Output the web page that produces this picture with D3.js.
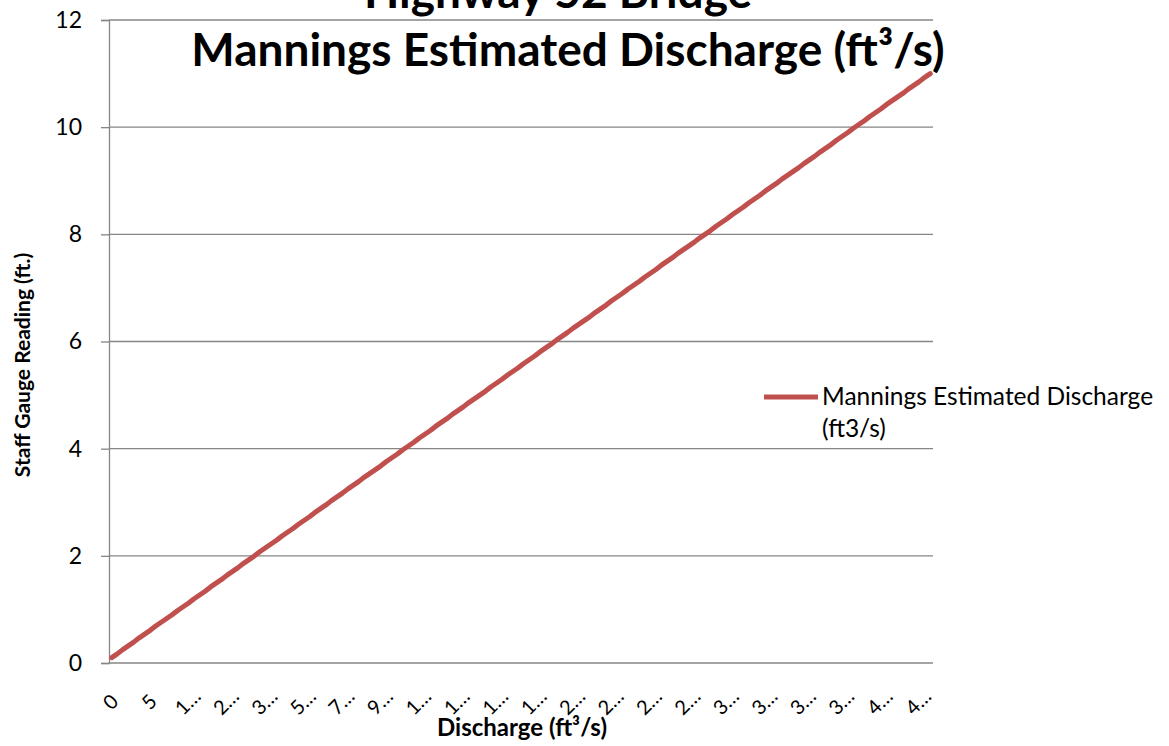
<!DOCTYPE html>
<html>
<head>
<meta charset="utf-8">
<script src="https://cdn.jsdelivr.net/npm/d3@7"></script>
<style>
  html, body { margin: 0; padding: 0; background: #ffffff; }
  svg { display: block; }
  text { font-family: Lato, "Open Sans", sans-serif; fill: #000; }
</style>
</head>
<body>
<svg id="chart" width="1169" height="746"></svg>
<script>
// Discharge categories (ft3/s), stage readings (ft)
const discharge = [
  0, 1, 1, 2, 3, 3, 4, 5, 6, 7, 8, 9, 10, 11, 12, 13, 15, 16, 17, 19,
  20, 22, 23, 25, 27, 28, 30, 32, 36, 38, 40, 42, 45, 47, 49, 52, 54, 57, 59, 62,
  64, 67, 70, 72, 75, 78, 81, 84, 87, 90, 93, 96, 99, 102, 105, 108, 111, 114, 117, 120,
  124, 127, 130, 133, 136, 140, 143, 146, 150, 153, 156, 160, 163, 167, 170, 173, 177, 180, 184, 187,
  191, 194, 198, 201, 205, 208, 212, 216, 219, 223, 227, 230, 234, 238, 241, 245, 249, 253, 256, 260,
  264, 268, 272, 275, 279, 283, 287, 291, 295, 299, 302, 306, 310, 314, 318, 322, 326, 330, 334, 338,
  342, 346, 350, 354, 358, 362, 366, 370, 374, 378, 383, 387, 391, 395, 399, 403, 407, 412, 416, 420,
  424, 428, 433, 437, 441, 445, 450, 454, 458, 463
];
const stage = [
  0.10, 0.17, 0.25, 0.32, 0.39, 0.47, 0.54, 0.61, 0.69, 0.76, 0.83, 0.90, 0.98, 1.05, 1.12, 1.20, 1.27, 1.34, 1.42, 1.49,
  1.56, 1.64, 1.71, 1.78, 1.86, 1.93, 2.00, 2.08, 2.15, 2.22, 2.29, 2.37, 2.44, 2.51, 2.59, 2.66, 2.73, 2.81, 2.88, 2.95,
  3.03, 3.10, 3.17, 3.25, 3.32, 3.39, 3.47, 3.54, 3.61, 3.68, 3.76, 3.83, 3.90, 3.98, 4.05, 4.12, 4.20, 4.27, 4.34, 4.42,
  4.49, 4.56, 4.64, 4.71, 4.78, 4.86, 4.93, 5.00, 5.07, 5.15, 5.22, 5.29, 5.37, 5.44, 5.51, 5.59, 5.66, 5.73, 5.81, 5.88,
  5.95, 6.03, 6.10, 6.17, 6.25, 6.32, 6.39, 6.46, 6.54, 6.61, 6.68, 6.76, 6.83, 6.90, 6.98, 7.05, 7.12, 7.20, 7.27, 7.34,
  7.42, 7.49, 7.56, 7.64, 7.71, 7.78, 7.85, 7.93, 8.00, 8.07, 8.15, 8.22, 8.29, 8.37, 8.44, 8.51, 8.59, 8.66, 8.73, 8.81,
  8.88, 8.95, 9.03, 9.10, 9.17, 9.24, 9.32, 9.39, 9.46, 9.54, 9.61, 9.68, 9.76, 9.83, 9.90, 9.98, 10.05, 10.12, 10.20, 10.27,
  10.34, 10.42, 10.49, 10.56, 10.63, 10.71, 10.78, 10.85, 10.93, 11.00
];
const yTicks = [0, 2, 4, 6, 8, 10, 12];
const labelEvery = 7;
const titleLines = ["Highway 52 Bridge", "Mannings Estimated Discharge (ft³/s)"];
const seriesName = ["Mannings Estimated Discharge", "(ft3/s)"];
const xTitle = "Discharge (ft³/s)";
const yTitle = "Staff Gauge Reading (ft.)";

const svg = d3.select("#chart");
const plot = { left: 109, right: 933, top: 20, bottom: 663 };
const gridColor = "#868686";
const lineColor = "#C0504D";

const cats = discharge.map((d, i) => i);
const x = d3.scaleBand().domain(cats).range([plot.left, plot.right]);
const y = d3.scaleLinear().domain([0, 12]).range([plot.bottom, plot.top]);

// gridlines + y axis
const yAxis = d3.axisLeft(y).tickValues(yTicks).tickSize(8).tickPadding(19).tickFormat(d3.format("d"));
const gy = svg.append("g").attr("transform", `translate(${plot.left},0)`).call(yAxis);
gy.select(".domain").attr("stroke", gridColor).attr("stroke-width", 1.3);
gy.selectAll(".tick line").attr("stroke", gridColor).attr("stroke-width", 1.3);
gy.selectAll(".tick text").style("font-family", "Lato, sans-serif").style("font-size", "23px").attr("fill", "#000");

svg.append("g").selectAll("line").data(yTicks).join("line")
  .attr("x1", plot.left).attr("x2", plot.right)
  .attr("y1", d => y(d)).attr("y2", d => y(d))
  .attr("stroke", gridColor).attr("stroke-width", 1.3);

// x category labels (truncated like the original)
const trunc = v => { const s = String(v); return s.length > 1 ? s[0] + "…" : s; };
const labeled = cats.filter(i => i % labelEvery === 0);
svg.append("g").selectAll("text").data(labeled).join("text")
  .attr("transform", i => `translate(${x(i) + x.bandwidth() / 2 - 1},702) rotate(-45)`)
  .attr("text-anchor", "middle")
  .attr("dy", "0.35em")
  .style("font-size", "20px")
  .text(i => trunc(discharge[i]));

// line
const line = d3.line()
  .x((d, i) => x(i) + x.bandwidth() / 2)
  .y(d => y(d));
svg.append("path").datum(stage)
  .attr("d", line)
  .attr("fill", "none")
  .attr("stroke", lineColor)
  .attr("stroke-width", 5)
  .attr("stroke-linejoin", "round")
  .attr("stroke-linecap", "round");

// titles
const tt = svg.append("g");
tt.append("text").attr("x", 558).attr("y", 8).attr("text-anchor", "middle")
  .style("font-size", "46px").style("font-weight", "bold").text(titleLines[0]);
tt.append("text").attr("x", 568).attr("y", 66).attr("text-anchor", "middle")
  .style("font-size", "46px").style("font-weight", "bold").text(titleLines[1]);

svg.append("text").attr("x", 522).attr("y", 736).attr("text-anchor", "middle")
  .style("font-size", "24px").style("font-weight", "bold").text(xTitle);
svg.append("text").attr("transform", "translate(30,365) rotate(-90)").attr("text-anchor", "middle")
  .style("font-size", "21px").style("font-weight", "bold").text(yTitle);

// legend
const lg = svg.append("g");
lg.append("line").attr("x1", 764).attr("x2", 818).attr("y1", 397).attr("y2", 397)
  .attr("stroke", lineColor).attr("stroke-width", 5);
lg.append("text").attr("x", 822).attr("y", 405).style("font-size", "24.5px").text(seriesName[0]);
lg.append("text").attr("x", 822).attr("y", 437).style("font-size", "24.5px").text(seriesName[1]);
</script>
</body>
</html>
